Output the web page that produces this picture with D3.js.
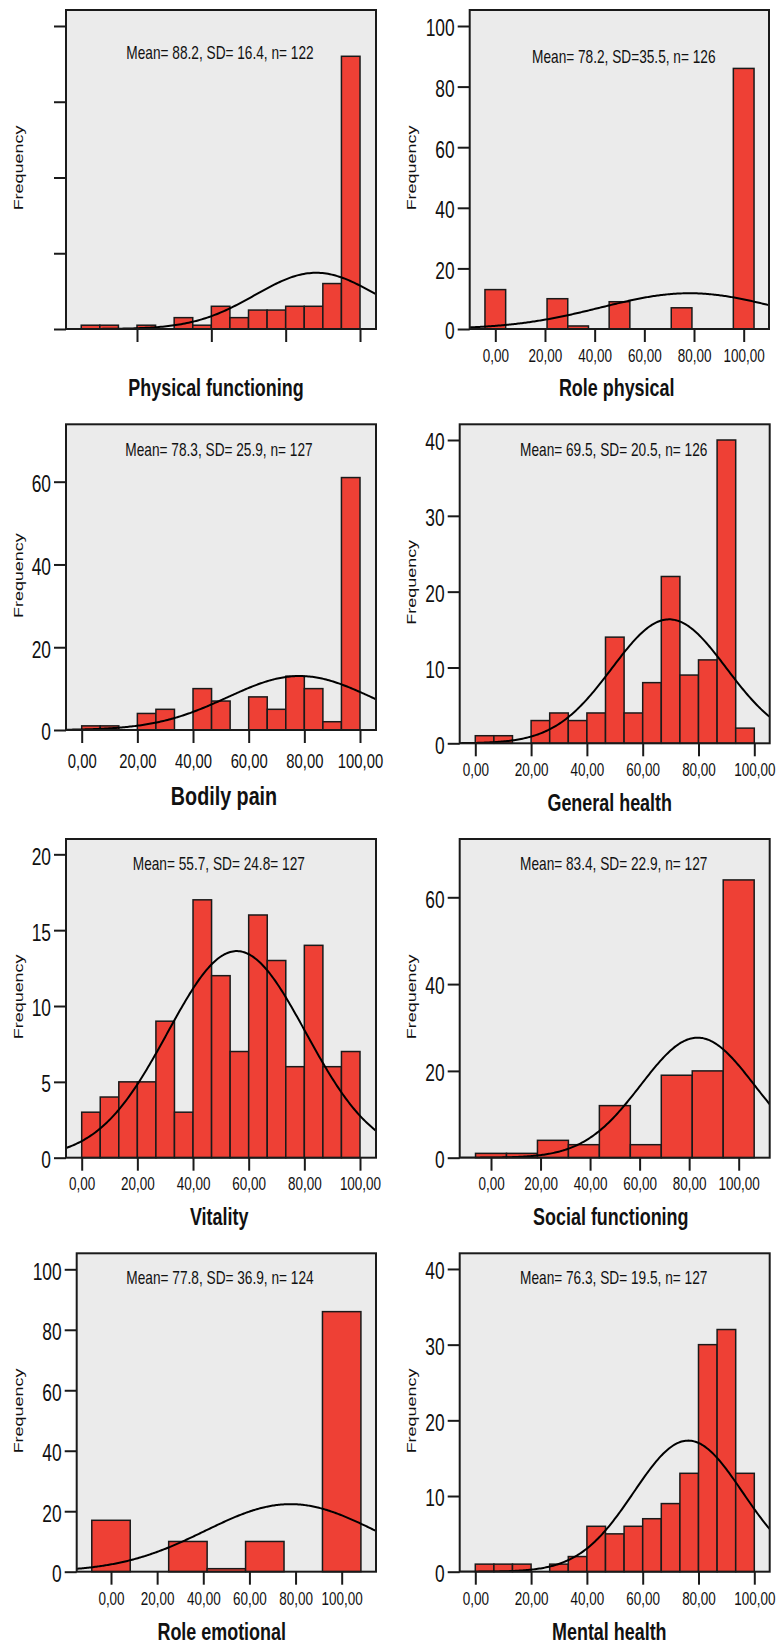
<!DOCTYPE html>
<html>
<head>
<meta charset="utf-8">
<script src="https://cdn.jsdelivr.net/npm/d3@7"></script>
<style>
  body { margin: 0; background: #fff; }
  svg { display: block; font-family: "Liberation Sans", Arial, sans-serif; }
</style>
</head>
<body>
<div id="chart"></div>
<script>
// ---- data ----
var titles = ["Physical functioning", "Role physical", "Bodily pain", "General health",
              "Vitality", "Social functioning", "Role emotional", "Mental health"];
var statLabels = ["Mean= 88.2, SD= 16.4, n= 122", "Mean= 78.2, SD=35.5, n= 126",
                  "Mean= 78.3, SD= 25.9, n= 127", "Mean= 69.5, SD= 20.5, n= 126",
                  "Mean= 55.7, SD= 24.8= 127", "Mean= 83.4, SD= 22.9, n= 127",
                  "Mean= 77.8, SD= 36.9, n= 124", "Mean= 76.3, SD= 19.5, n= 127"];
var means = [88.2, 78.2, 78.3, 69.5, 55.7, 83.4, 77.8, 76.3];
var sds = [16.4, 35.5, 25.9, 20.5, 24.8, 22.9, 36.9, 19.5];
var ns = [122, 126, 127, 126, 127, 127, 124, 127];

// left edge of first bin + bin width
var binStarts = [25, -100 / 24, 0, 0, 0, -6.25, -100 / 12, 0];
var binWidths = [5, 100 / 12, 100 / 15, 100 / 15, 100 / 15, 12.5, 100 / 6, 100 / 15];

// bar heights (frequencies)
var pfCounts = [1, 1, 0, 1, 0, 3, 1, 6, 3, 5, 5, 6, 6, 12, 72];
var rpCounts = [13, 0, 0, 10, 1, 0, 9, 0, 0, 7, 0, 0, 86];
var bpCounts = [1, 1, 0, 4, 5, 0, 10, 7, 0, 8, 5, 13, 10, 2, 61];
var ghCounts = [1, 1, 0, 3, 4, 3, 4, 14, 4, 8, 22, 9, 11, 40, 2];
var vtCounts = [3, 4, 5, 5, 9, 3, 17, 12, 7, 16, 13, 6, 14, 6, 7];
var sfCounts = [1, 1, 4, 3, 12, 3, 19, 20, 64];
var reCounts = [17, 0, 10, 1, 10, 0, 86];
var mhCounts = [1, 1, 1, 0, 1, 2, 6, 5, 6, 7, 9, 13, 30, 32, 13];
var allCounts = [pfCounts, rpCounts, bpCounts, ghCounts, vtCounts, sfCounts, reCounts, mhCounts];

var yTicks = [[0, 20, 40, 60, 80], [0, 20, 40, 60, 80, 100], [0, 20, 40, 60], [0, 10, 20, 30, 40],
              [0, 5, 10, 15, 20], [0, 20, 40, 60], [0, 20, 40, 60, 80, 100], [0, 10, 20, 30, 40]];
var xTicks = [[40, 60, 80, 100], [0, 20, 40, 60, 80, 100], [0, 20, 40, 60, 80, 100], [0, 20, 40, 60, 80, 100],
              [0, 20, 40, 60, 80, 100], [0, 20, 40, 60, 80, 100], [0, 20, 40, 60, 80, 100], [0, 20, 40, 60, 80, 100]];
// first panel has tick marks but no tick labels
var showTickLabels = [false, true, true, true, true, true, true, true];

// ---- layout (pixel frames of each panel, axis extents) ----
// ts = text scale for the x labels and title (bodily pain panel is printed a bit larger)
var layout = [
  {l: 66,    t: 10,     r: 376,   b: 329,    x0: 20.9,   x1: 104.3,  yMax: 84.22,  tx: 216,   ty: 396,   mx: 220,   my: 59,     fx: 22.6,  lab: 33,   ts: 1},
  {l: 469.7, t: 10,     r: 769,   b: 329,    x0: -10.31, x1: 110.19, yMax: 105.28, tx: 616.7, ty: 396,   mx: 623.8, my: 63.3,   fx: 416.3, lab: 33,   ts: 1},
  {l: 66,    t: 424.3,  r: 376,   b: 730,    x0: -5.64,  x1: 105.75, yMax: 73.87,  tx: 224,   ty: 805,   mx: 219,   my: 456,    fx: 22.6,  lab: 38.5, ts: 1.1},
  {l: 459.7, t: 424.3,  r: 769.7, b: 743.3,  x0: -5.59,  x1: 105.52, yMax: 42.07,  tx: 609.7, ty: 810.7, mx: 613.7, my: 456,    fx: 416.3, lab: 33,   ts: 1},
  {l: 66,    t: 839,    r: 376,   b: 1157.7, x0: -5.64,  x1: 105.75, yMax: 21.01,  tx: 219.2, ty: 1225,  mx: 218.8, my: 870,    fx: 22.6,  lab: 32.5, ts: 1},
  {l: 459.7, t: 839,    r: 769.7, b: 1157.7, x0: -12.64, x1: 112.52, yMax: 73.43,  tx: 610.8, ty: 1225,  mx: 613.7, my: 870,    fx: 416.3, lab: 32.5, ts: 1},
  {l: 76.7,  t: 1253.3, r: 376,   b: 1571.7, x0: -14.87, x1: 114.87, yMax: 105.29, tx: 221.7, ty: 1640,  mx: 220,   my: 1284.3, fx: 22.6,  lab: 33.3, ts: 1},
  {l: 459.7, t: 1253.3, r: 769.7, b: 1571.7, x0: -5.59,  x1: 105.52, yMax: 42.07,  tx: 609.3, ty: 1640,  mx: 613.7, my: 1284.3, fx: 416.3, lab: 33.3, ts: 1}
];

var svgWidth = 778, svgHeight = 1645;
var ink = "#1a1a1a";
var commaFormat = d3.formatLocale({decimal: ",", thousands: ".", grouping: [3], currency: ["", ""]}).format(".2f");

var svg = d3.select("#chart").append("svg")
  .attr("width", svgWidth)
  .attr("height", svgHeight);

// horizontal squeeze of axis tick texts (imitates the condensed print font)
function squeeze(sel, f) {
  sel.each(function() {
    var t = d3.select(this);
    var x0 = +(t.attr("x") || 0);
    t.attr("x", x0 / f).attr("transform", "scale(" + f + ",1)");
  });
}

layout.forEach(function(L, i) {
  var x = d3.scaleLinear().domain([L.x0, L.x1]).range([L.l, L.r]);
  var y = d3.scaleLinear().domain([0, L.yMax]).range([L.b, L.t]);
  var g = svg.append("g");

  // grey plot area
  g.append("rect")
    .attr("x", L.l).attr("y", L.t)
    .attr("width", L.r - L.l).attr("height", L.b - L.t)
    .attr("fill", "#ebebeb");

  // histogram bars
  var bars = allCounts[i].map(function(c, k) {
    return {x0: binStarts[i] + k * binWidths[i], x1: binStarts[i] + (k + 1) * binWidths[i], count: c};
  }).filter(function(d) { return d.count > 0; });

  g.selectAll("rect.bar")
    .data(bars)
    .enter().append("rect")
    .attr("class", "bar")
    .attr("x", function(d) { return x(d.x0); })
    .attr("y", function(d) { return y(d.count); })
    .attr("width", function(d) { return x(d.x1) - x(d.x0); })
    .attr("height", function(d) { return y(0) - y(d.count); })
    .attr("fill", "#ee4035")
    .attr("stroke", ink)
    .attr("stroke-width", 1.5);

  // fitted normal curve from mean, SD, n and bin width
  var clipId = "clip" + i;
  g.append("clipPath").attr("id", clipId)
    .append("rect")
    .attr("x", L.l).attr("y", L.t)
    .attr("width", L.r - L.l).attr("height", L.b - L.t);

  var peak = ns[i] * binWidths[i] / (sds[i] * Math.sqrt(2 * Math.PI));
  var normalCurve = d3.range(L.x0, L.x1 + 0.5, 0.5).map(function(v) {
    var z = (v - means[i]) / sds[i];
    return [v, peak * Math.exp(-0.5 * z * z)];
  });

  g.append("path")
    .datum(normalCurve)
    .attr("clip-path", "url(#" + clipId + ")")
    .attr("fill", "none")
    .attr("stroke", "#000")
    .attr("stroke-width", 2)
    .attr("d", d3.line().x(function(d) { return x(d[0]); }).y(function(d) { return y(d[1]); }));

  // frame outline
  g.append("rect")
    .attr("x", L.l).attr("y", L.t)
    .attr("width", L.r - L.l).attr("height", L.b - L.t)
    .attr("fill", "none")
    .attr("stroke", ink)
    .attr("stroke-width", 2);

  // axes
  var leftAxis = d3.axisLeft(y).tickValues(yTicks[i]).tickSize(12).tickPadding(3)
    .tickFormat(showTickLabels[i] ? d3.format("d") : function() { return ""; });
  var yAxisG = g.append("g")
    .attr("transform", "translate(" + L.l + ",0)")
    .call(leftAxis);
  yAxisG.select(".domain").remove();
  yAxisG.selectAll("line").attr("stroke", ink).attr("stroke-width", 2);
  yAxisG.selectAll("text")
    .attr("fill", "#111")
    .attr("font-size", 23.5)
    .attr("dy", "0.42em")
    .call(squeeze, 0.74);

  var bottomAxis = d3.axisBottom(x).tickValues(xTicks[i]).tickSize(13)
    .tickFormat(showTickLabels[i] ? commaFormat : function() { return ""; });
  var xAxisG = g.append("g")
    .attr("transform", "translate(0," + L.b + ")")
    .call(bottomAxis);
  xAxisG.select(".domain").remove();
  xAxisG.selectAll("line").attr("stroke", ink).attr("stroke-width", 2);
  xAxisG.selectAll("text")
    .attr("fill", "#111")
    .attr("font-size", 19 * L.ts)
    .attr("y", L.lab)
    .attr("dy", null)
    .call(squeeze, 0.71);

  // stats line
  g.append("text")
    .attr("transform", "translate(" + L.mx + "," + L.my + ") scale(0.76,1)")
    .attr("text-anchor", "middle")
    .attr("font-size", 18)
    .attr("fill", "#111")
    .text(statLabels[i]);

  // y axis title
  g.append("text")
    .attr("transform", "translate(" + L.fx + "," + ((L.t + L.b) / 2 - 1.5) + ") rotate(-90) scale(1.38,1)")
    .attr("text-anchor", "middle")
    .attr("font-size", 13)
    .attr("fill", "#111")
    .text("Frequency");

  // x axis title
  g.append("text")
    .attr("transform", "translate(" + L.tx + "," + L.ty + ") scale(0.78,1)")
    .attr("text-anchor", "middle")
    .attr("font-size", 23 * L.ts)
    .attr("font-weight", "bold")
    .attr("fill", "#111")
    .text(titles[i]);
});
</script>
</body>
</html>
